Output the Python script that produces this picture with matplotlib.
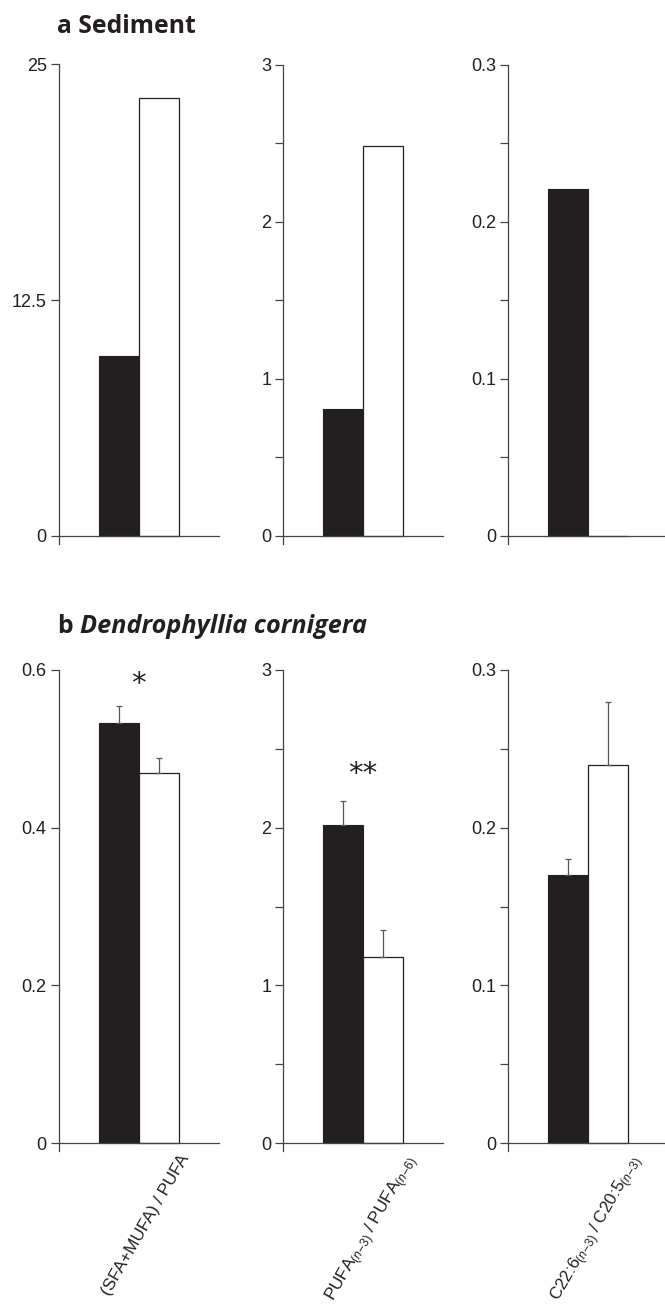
#!/usr/bin/env python3
# Fatty acid ratios: sediment (a) and Dendrophyllia cornigera (b)
# black = first group, white = second group

import matplotlib
matplotlib.use("Agg")
import matplotlib.pyplot as plt

# ratio labels (x axis, bottom row only)
ratio_labels = ["(SFA+MUFA) / PUFA",
                r"PUFA$_{(n\mathrm{-3})}$ / PUFA$_{(n\mathrm{-6})}$",
                r"C22:6$_{(n\mathrm{-3})}$ / C20:5$_{(n\mathrm{-3})}$"]

# a Sediment
sediment_black = [9.55, 0.81, 0.221]
sediment_white = [23.2, 2.48, 0.0]

# b Dendrophyllia cornigera
coral_black = [0.533, 2.02, 0.170]
coral_white = [0.469, 1.18, 0.240]
coral_black_err = [0.021, 0.15, 0.010]
coral_white_err = [0.019, 0.17, 0.040]
coral_stars = ["*", "**", ""]
coral_star_y = [0.582, 2.34, 0.0]

# axis scales
sediment_ymax = [25, 3, 0.3]
sediment_ticks = [[0, 12.5, 25], [0, 0.5, 1, 1.5, 2, 2.5, 3],
                  [0, 0.05, 0.1, 0.15, 0.2, 0.25, 0.3]]
sediment_ticklabels = [["0", "12.5", "25"],
                       ["0", "", "1", "", "2", "", "3"],
                       ["0", "", "0.1", "", "0.2", "", "0.3"]]

coral_ymax = [0.6, 3, 0.3]
coral_ticks = [[0, 0.2, 0.4, 0.6], [0, 0.5, 1, 1.5, 2, 2.5, 3],
               [0, 0.05, 0.1, 0.15, 0.2, 0.25, 0.3]]
coral_ticklabels = [["0", "0.2", "0.4", "0.6"],
                    ["0", "", "1", "", "2", "", "3"],
                    ["0", "", "0.1", "", "0.2", "", "0.3"]]

BLACK = "#231f20"
AXIS = "#444444"
W, H = 665, 1307

plt.rcParams['font.family'] = ['Liberation Sans', 'DejaVu Sans']
plt.rcParams['mathtext.fontset'] = 'custom'
plt.rcParams['mathtext.rm'] = 'Liberation Sans'
plt.rcParams['mathtext.it'] = 'Liberation Sans:italic'


def main():
    fig = plt.figure(figsize=(W / 100, H / 100), dpi=100)
    lefts = [58.5, 283, 508]

    # top row: 0 at y=536px, top at 64.5px
    for i in range(3):
        ax = makeAxes(fig, lefts[i], 64.5, 544)
        pad = sediment_ymax[i] * 8 / 471.5
        plotPanel(ax, sediment_black[i], sediment_white[i], None, None,
                  sediment_ymax[i], pad, sediment_ticks[i], sediment_ticklabels[i])

    # bottom row: 0 at y=1143px, top at 670px
    for i in range(3):
        ax = makeAxes(fig, lefts[i], 670, 1151)
        pad = coral_ymax[i] * 8 / 473
        plotPanel(ax, coral_black[i], coral_white[i], coral_black_err[i], coral_white_err[i],
                  coral_ymax[i], pad, coral_ticks[i], coral_ticklabels[i])
        if coral_stars[i]:
            ax.text(2.0, coral_star_y[i], coral_stars[i], ha='center', va='center',
                    fontsize=21, color=BLACK, family='DejaVu Sans')
        ax.annotate(ratio_labels[i], xy=(3.02, 0), xytext=(0, -6.5), textcoords='offset points',
                    ha='right', va='top', rotation=60, rotation_mode='anchor',
                    fontsize=12.3, color=BLACK, annotation_clip=False)

    fig.text(57 / W, 1 - 33 / H, "a Sediment", fontsize=17.8, fontweight='bold',
             family='Open Sans', color=BLACK, va='baseline')
    fig.text(57 / W, 1 - 633 / H, "b", fontsize=17.8, fontweight='bold',
             family='Open Sans', color=BLACK, va='baseline')
    fig.text(80 / W, 1 - 633 / H, "Dendrophyllia cornigera", fontsize=18.2, fontweight='bold',
             style='italic', family='Open Sans', color=BLACK, va='baseline')

    fig.savefig("out.png", dpi=100)


def makeAxes(fig, left_px, top_px, bottom_px):
    "axes placed in figure pixels, 160 px wide"
    return fig.add_axes([left_px / W, 1 - bottom_px / H, 160 / W, (bottom_px - top_px) / H])


def plotPanel(ax, black, white, black_err, white_err, ymax, pad, ticks, ticklabels):
    ax.bar(1.5, black, width=1.0, color=BLACK, edgecolor=BLACK, linewidth=0.8)
    ax.bar(2.5, white, width=1.0, color='white', edgecolor=BLACK, linewidth=0.9)
    if black_err is not None:
        ax.errorbar([1.5, 2.5], [black, white], yerr=[[0, 0], [black_err, white_err]],
                    fmt='none', ecolor='#555555', elinewidth=0.9, capsize=2.3, capthick=0.9)

    ax.set_xlim(0, 4)
    ax.set_ylim(-pad, ymax)
    ax.set_yticks(ticks)
    ax.set_yticklabels(ticklabels)
    ax.set_xticks([])

    for side in ('top', 'right'):
        ax.spines[side].set_visible(False)
    ax.spines['bottom'].set_position(('data', 0))
    ax.spines['left'].set_color(AXIS)
    ax.spines['bottom'].set_color(AXIS)
    ax.spines['left'].set_linewidth(0.9)
    ax.spines['bottom'].set_linewidth(0.9)
    ax.tick_params(axis='y', direction='out', length=5.5, width=0.9, color=AXIS,
                   labelsize=13, labelcolor=BLACK, pad=3)
    ax.patch.set_visible(False)


if __name__ == "__main__":
    main()
